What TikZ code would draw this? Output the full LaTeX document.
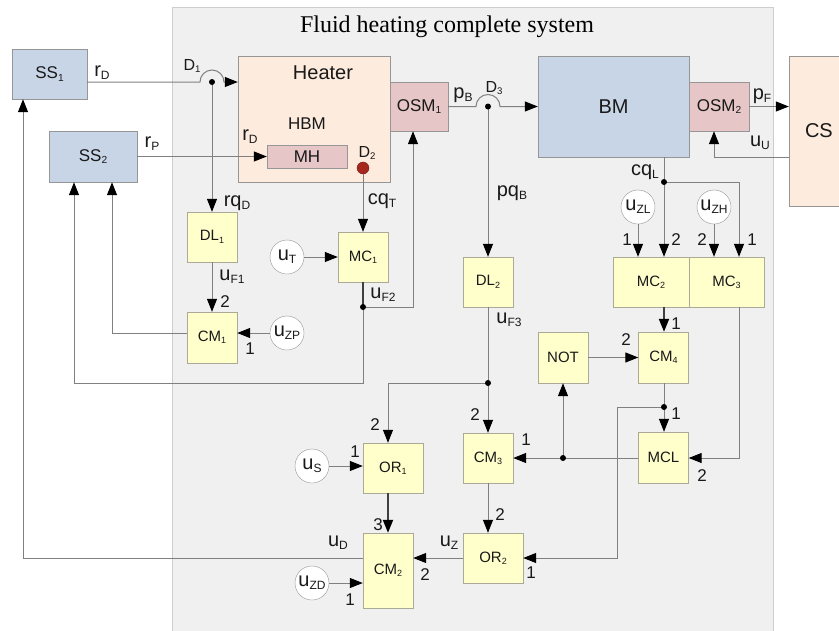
\documentclass[tikz,border=0pt]{standalone}
\usepackage{graphicx}
\usepackage{fontspec}
\setmainfont{Liberation Sans}
\newfontfamily\titlefont{Liberation Serif}
\usetikzlibrary{arrows.meta,calc}
\definecolor{sysbg}{RGB}{240,240,240}
\definecolor{sysline}{RGB}{205,205,205}
\definecolor{yfill}{RGB}{255,255,204}
\definecolor{yline}{RGB}{170,170,150}
\definecolor{bfill}{RGB}{200,213,230}
\definecolor{pfill}{RGB}{253,235,222}
\definecolor{kfill}{RGB}{230,198,198}
\definecolor{boxline}{RGB}{150,150,150}
\definecolor{wirec}{RGB}{128,128,128}
\definecolor{reddot}{RGB}{165,40,30}
\definecolor{textc}{RGB}{25,25,25}
\newcommand\sbs[1]{\raisebox{-0.3ex}{\scalebox{0.6}{#1}}}
\tikzset{
  wire/.style={draw=wirec, line width=1pt},
  arr/.style={wire, -{Triangle[length=13pt,width=10pt,color=black]}},
  tarr/.style={draw=black!75, line width=2pt, -{Triangle[length=13pt,width=10pt,color=black]}},
  tw/.style={draw=black!75, line width=2pt},
  ybox/.style={draw=yline, fill=yfill, minimum width=50pt, minimum height=50pt, inner sep=0pt, text=textc, font=\fontsize{15}{15}\selectfont},
  bbox/.style={draw=boxline, fill=bfill, inner sep=0pt, text=textc, font=\fontsize{17}{17}\selectfont},
  pbox/.style={draw=boxline, fill=pfill, inner sep=0pt, text=textc, font=\fontsize{20}{20}\selectfont},
  kbox/.style={draw=boxline, fill=kfill, inner sep=0pt, text=textc, font=\fontsize{17}{17}\selectfont},
  circ/.style={circle, draw=boxline, fill=white, minimum size=34pt, inner sep=0pt, text=textc, font=\fontsize{20}{20}\selectfont},
  lab/.style={inner sep=0pt, text=textc, font=\fontsize{20}{20}\selectfont},
  num/.style={inner sep=0pt, text=textc, font=\fontsize{17}{17}\selectfont},
  dlab/.style={inner sep=0pt, text=textc, font=\fontsize{16}{16}\selectfont},
  dot/.style={fill=black}
}
\begin{document}
\begin{tikzpicture}[x=1pt,y=-1pt]
\useasboundingbox (0,0) rectangle (839,630);
\clip (0,0) rectangle (839,630);
\fill[white] (0,0) rectangle (839,630);
\draw[sysline, fill=sysbg, line width=1pt] (172,7) rectangle (773,640);
\node[inner sep=0pt, text=black, font=\titlefont\fontsize{24}{24}\selectfont] (title) at (447,27) {Fluid heating complete system};

% main boxes
\node[bbox, minimum width=75pt, minimum height=50pt] (SS1) at (49.5,74) {SS\sbs{1}};
\node[bbox, minimum width=88pt, minimum height=51pt] (SS2) at (93,156.5) {SS\sbs{2}};
\node[pbox, minimum width=152pt, minimum height=126pt] (Heater) at (314,119) {};
\node[lab] (heatertxt) at (323,73) {Heater};
\node[inner sep=0pt, text=textc, font=\fontsize{17}{17}\selectfont] (hbm) at (307,124) {HBM};
\node[kbox, minimum width=80pt, minimum height=23pt] (MH) at (307,156.5) {MH};
\node[kbox, minimum width=58pt, minimum height=49pt] (OSM1) at (419,106.5) {OSM\sbs{1}};
\node[bbox, minimum width=151pt, minimum height=101pt, font=\fontsize{20}{20}\selectfont] (BM) at (613.5,106.5) {BM};
\node[kbox, minimum width=60pt, minimum height=49pt] (OSM2) at (719,106.5) {OSM\sbs{2}};
\node[pbox, minimum width=70pt, minimum height=150pt, text width=38pt, align=left] (CS) at (824,131) {CS};
\node[circle, fill=reddot, draw=reddot!70!black, minimum size=12pt, inner sep=0pt] (D2) at (363,168) {};

% yellow blocks
\node[ybox] (DL1) at (212,237) {DL\sbs{1}};
\node[ybox, minimum height=51pt] (CM1) at (212,337.5) {CM\sbs{1}};
\node[ybox] (MC1) at (363,257) {MC\sbs{1}};
\node[ybox] (DL2) at (488,282) {DL\sbs{2}};
\node[ybox, minimum width=76pt] (MC2) at (651,282) {MC\sbs{2}};
\node[ybox, minimum width=75pt] (MC3) at (726.5,282) {MC\sbs{3}};
\node[ybox, minimum height=51pt] (NOT) at (563,357.5) {NOT};
\node[ybox, minimum height=51pt] (CM4) at (663.5,357.5) {CM\sbs{4}};
\node[ybox, minimum height=51pt] (MCL) at (663.5,457.5) {MCL};
\node[ybox] (CM3) at (488,458) {CM\sbs{3}};
\node[ybox, minimum width=60pt] (OR1) at (393,468) {OR\sbs{1}};
\node[ybox, minimum width=60pt] (OR2) at (493,558) {OR\sbs{2}};
\node[ybox, minimum height=75pt] (CM2) at (388,570.5) {CM\sbs{2}};

% circles
\node[circ] (uT) at (287,257) {u\sbs{T}};
\node[circ] (uZP) at (287,333) {u\sbs{ZP}};
\node[circ] (uZL) at (638,207) {u\sbs{ZL}};
\node[circ] (uZH) at (714,207) {u\sbs{ZH}};
\node[circ] (uS) at (312,466) {u\sbs{S}};
\node[circ] (uZD) at (312,583) {u\sbs{ZD}};

% junctions and bends
\coordinate (D1) at (212,82);
\coordinate (D3) at (488,106.5);
\coordinate (jF2) at (363,307);
\coordinate (jF3) at (488,383);
\coordinate (jL) at (664,182);
\coordinate (j4) at (664,407);
\coordinate (jM) at (563,458);
\coordinate (bF2) at (413,307);
\coordinate (bS2a) at (74,383);
\coordinate (bS2b) at (112,333);
\coordinate (bS1) at (23,558);
\coordinate (bL) at (739,182);
\coordinate (bM3) at (739,458);
\coordinate (b4) at (617,407);
\coordinate (bO2) at (617,558);
\coordinate (bU) at (714,157);
\coordinate (bOR1) at (388,383);

% connectors
\draw[arr] (SS1.east |- D1) -- ([xshift=-12pt]D1) arc[start angle=180,end angle=0,radius=12pt] -- (Heater.west |- D1);
\draw[arr] (D1) -- (D1 |- DL1.north);
\draw[arr] (SS2.east) -- (MH.west);
\draw[arr] (D2) -- (MC1.north);
\draw[arr] (uT) -- (MC1);
\draw[tw] (MC1.south) -- (jF2);
\draw[arr] (jF2) -- (bF2) -- (bF2 |- OSM1.south);
\draw[arr] (jF2) |- (bS2a) -- (bS2a |- SS2.south);
\draw[arr] (DL1) -- (CM1);
\draw[arr] (uZP) -- (CM1.east |- uZP);
\draw[arr] (CM1.west |- bS2b) -- (bS2b) -- (bS2b |- SS2.south);
\draw[arr] (OSM1.east |- D3) -- ([xshift=-12pt]D3) arc[start angle=180,end angle=0,radius=12pt] -- (BM.west |- D3);
\draw[arr] (D3) -- (DL2.north);
\draw[wire] (DL2.south) -- (jF3);
\draw[arr] (jF3) -- (bOR1) -- (bOR1 |- OR1.north);
\draw[arr] (jF3) -- (CM3.north);
\draw[arr] (uS) -- (OR1.west |- uS);
\draw[tarr] (bOR1 |- OR1.south) -- (bOR1 |- CM2.north);
\draw[arr] (CM2.west |- bS1) -- (bS1) -- (bS1 |- SS1.south);
\draw[arr] (uZD) -- (CM2.west |- uZD);
\draw[arr] (OR2.west) -- (CM2.east |- OR2.west);
\draw[arr] (CM3.south) -- (CM3.south |- OR2.north);
\draw[wire] (BM.south -| jL) -- (jL);
\draw[arr] (jL) -- (jL |- MC2.north);
\draw[arr] (jL) -- (bL) -- (bL |- MC3.north);
\draw[arr] (uZL) -- (uZL |- MC2.north);
\draw[arr] (uZH) -- (uZH |- MC3.north);
\draw[tarr] (MC2.south -| jL) -- (CM4.north -| jL);
\draw[arr] (NOT) -- (CM4);
\draw[wire] (CM4.south -| j4) -- (j4);
\draw[arr] (j4) -- (MCL.north -| j4);
\draw[arr] (j4) -- (b4) -- (bO2) -- (OR2.east |- bO2);
\draw[arr] (MC3.south -| bM3) -- (bM3) -- (MCL.east |- bM3);
\draw[arr] (MCL.west |- jM) -- (CM3.east |- jM);
\draw[arr] (jM) -- (NOT.south -| jM);
\draw[arr] (OSM2.east) -- (CS.west |- OSM2.east);
\draw[arr] (CS.west |- bU) -- (bU) -- (bU |- OSM2.south);

% dots
\foreach \p in {D1,D3,jF2,jF3,jL,j4,jM} \fill[dot] (\p) circle (3pt);

% signal labels
\node[lab] (lrD) at (102,73) {r\sbs{D}};
\node[lab] (lrP) at (152,144) {r\sbs{P}};
\node[lab] (lrD2) at (250,137) {r\sbs{D}};
\node[lab] (lrqD) at (237,203) {rq\sbs{D}};
\node[lab] (lcqT) at (382,201) {cq\sbs{T}};
\node[lab] (luF1) at (232,277) {u\sbs{F1}};
\node[lab] (luF2) at (383,295) {u\sbs{F2}};
\node[lab] (lpB) at (463,95) {p\sbs{B}};
\node[lab] (lpqB) at (512,193) {pq\sbs{B}};
\node[lab] (luF3) at (509,320) {u\sbs{F3}};
\node[lab] (lcqL) at (645,172) {cq\sbs{L}};
\node[lab] (lpF) at (762,96) {p\sbs{F}};
\node[lab] (luU) at (760,143) {u\sbs{U}};
\node[lab] (luD) at (338,543) {u\sbs{D}};
\node[lab] (luZ) at (449,543) {u\sbs{Z}};
\node[dlab] (lD1) at (192,66) {D\sbs{1}};
\node[dlab] (lD2) at (367,153) {D\sbs{2}};
\node[dlab] (lD3) at (494,88) {D\sbs{3}};

% port numbers
\node[num] at (225,302) {2};
\node[num] at (250,349) {1};
\node[num] at (627,240) {1};
\node[num] at (676,240) {2};
\node[num] at (702,240) {2};
\node[num] at (752,240) {1};
\node[num] at (676,324) {1};
\node[num] at (626,340) {2};
\node[num] at (676,414) {1};
\node[num] at (702,476) {2};
\node[num] at (526,440) {1};
\node[num] at (475,415) {2};
\node[num] at (375,425) {2};
\node[num] at (355,452) {1};
\node[num] at (378,525) {3};
\node[num] at (500,515) {2};
\node[num] at (425,575) {2};
\node[num] at (350,600) {1};
\node[num] at (531,573) {1};
\end{tikzpicture}
\end{document}
